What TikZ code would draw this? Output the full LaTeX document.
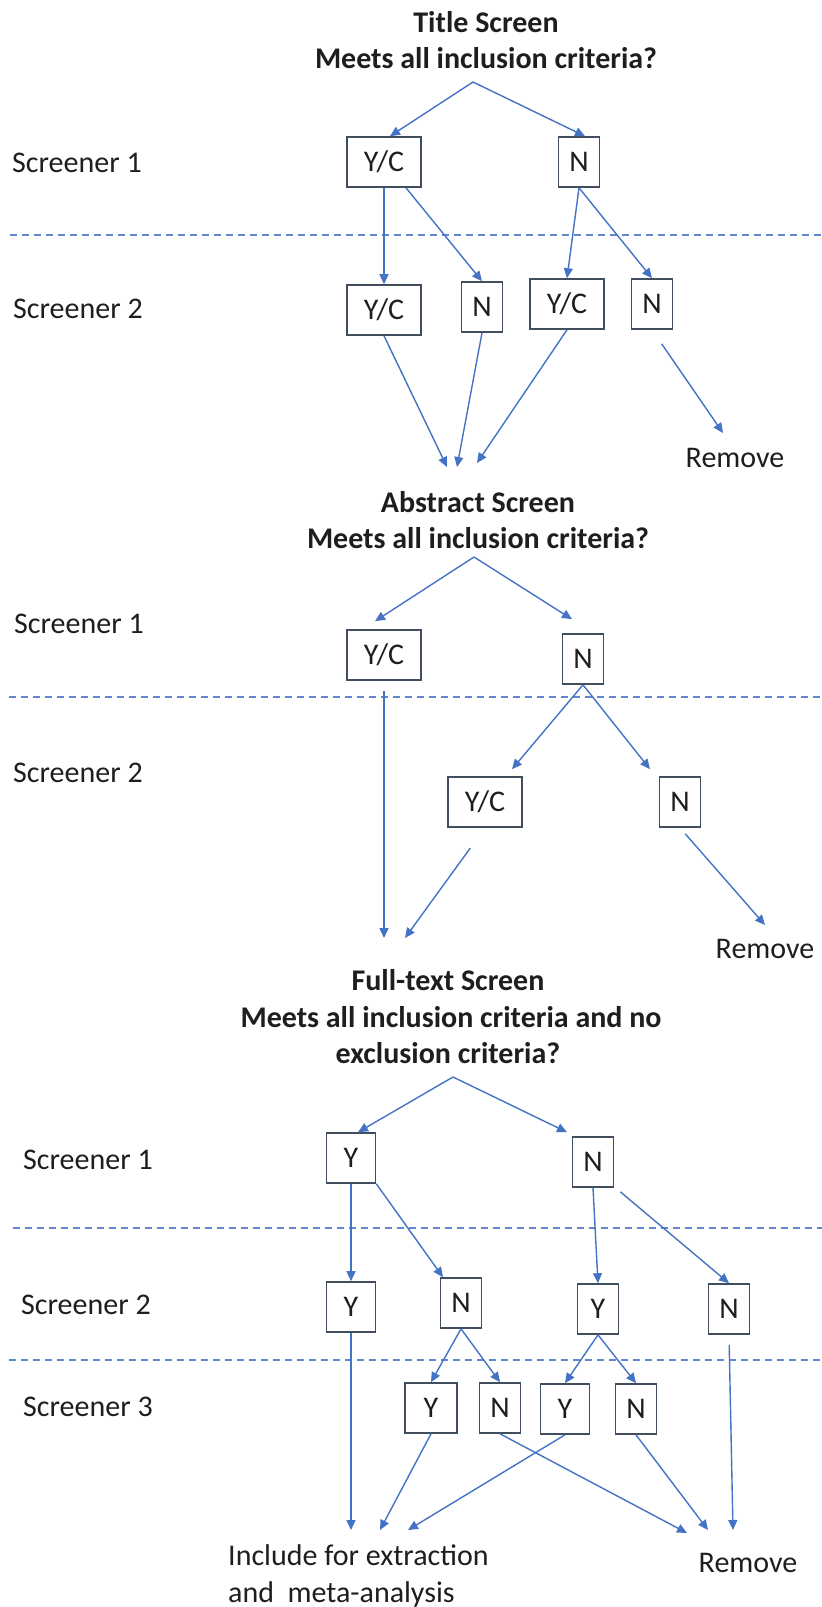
\documentclass[tikz,border=0pt]{standalone}
\usepackage{fontspec}
\setmainfont{Carlito}
\usetikzlibrary{arrows.meta}
\definecolor{arrowblue}{HTML}{4472C4}
\definecolor{boxgray}{HTML}{404E5E}
\definecolor{textgray}{HTML}{1E1E1E}
\begin{document}
\begin{tikzpicture}[x=1pt,y=-1pt,
    every node/.style={text=textgray,font=\fontsize{30}{36}\selectfont},
    lbl/.style={anchor=base west,inner sep=0pt},
    head/.style={anchor=base,inner sep=0pt,font=\fontsize{30}{36}\selectfont\bfseries},
    res/.style={anchor=base,inner sep=0pt},
    box/.style={draw=boxgray,line width=1.6pt,minimum height=50pt,inner sep=0pt},
    ycbox/.style={box,minimum width=74pt},
    nbox/.style={box,minimum width=41pt},
    ybox/.style={box,minimum width=49pt},
    arr/.style={draw=arrowblue,line width=1.4pt,-{Triangle[length=10pt,width=9pt]}},
    sep/.style={draw=arrowblue!85,line width=1.4pt,dash pattern=on 7pt off 5pt}]
        \useasboundingbox (0,0) rectangle (822,1607);
        % Separators
        \foreach \y/\xa in {235/10,697/9,1228/13,1360/9}
          \draw[sep] (\xa,\y) -- (822,\y);
        % Screeners
        \foreach \x/\y/\n in {12/172/1,13/318/2,14/633/1,13/782/2,23/1169/1,21/1314/2,23/1416/3}
          \node[lbl] (scr\y) at (\x,\y) {Screener \n};
        % Title screen
        \node[head] (thead) at (486,32) {Title Screen};
        \node[head] (tq) at (486,68) {Meets all inclusion criteria?};
        \coordinate (tsplit) at (473,82);
        \node[ycbox] (t1yc) at (384,162) {Y/C};
        \node[nbox] (t1n) at (579,162) {N};
        \node[ycbox] (t2yc) at (384,310) {Y/C};
        \node[nbox] (t2n) at (482,307) {N};
        \node[ycbox] (t2ycb) at (567,304) {Y/C};
        \node[nbox] (t2nb) at (652,304) {N};
        \coordinate (tm1) at (447,467);
        \coordinate (tm2) at (457,467);
        \coordinate (tm3) at (477,463);
        \coordinate (trem) at (723,433);
        \node[res] (tremove) at (735,467) {Remove};
        \draw[arr] (tsplit) -- ([xshift=6pt]t1yc.north);
        \draw[arr] (tsplit) -- ([xshift=6pt]t1n.north);
        \draw[arr] (t1yc.south) -- (t2yc.north);
        \draw[arr] ([xshift=22pt]t1yc.south) -- (t2n.north);
        \draw[arr] (t1n.south) -- (t2ycb.north);
        \draw[arr] (t1n.south) -- (t2nb.north);
        \draw[arr] (t2yc.south) -- (tm1);
        \draw[arr] (t2n.south) -- (tm2);
        \draw[arr] (t2ycb.south) -- (tm3);
        \draw[arr,shorten <=17pt] (t2nb.south) -- (trem);
        % Abstract screen
        \node[head] (ahead) at (478,512) {Abstract Screen};
        \node[head] (aq) at (478,548) {Meets all inclusion criteria?};
        \coordinate (asplit) at (474,557);
        \node[ycbox] (a1yc) at (384,655) {Y/C};
        \node[nbox] (a1n) at (583,659) {N};
        \node[ycbox] (a2yc) at (485,802) {Y/C};
        \node[nbox] (a2n) at (680,802) {N};
        \coordinate (am1) at (384,938);
        \coordinate (am2) at (405,938);
        \coordinate (arem) at (765,925);
        \node[res] (aremove) at (765,958) {Remove};
        \draw[arr] (asplit) -- ([xshift=-9pt,yshift=8pt]a1yc.north);
        \draw[arr] (asplit) -- ([xshift=-11pt,yshift=14pt]a1n.north);
        \draw[arr,shorten <=10pt] (a1yc.south) -- (am1);
        \draw[arr] (a1n.south) -- ([xshift=27pt,yshift=7pt]a2yc.north);
        \draw[arr] (a1n.south) -- ([xshift=-30pt,yshift=7pt]a2n.north);
        \draw[arr,shorten <=25pt] (a2yc.south) -- (am2);
        \draw[arr,shorten <=8pt] (a2n.south) -- (arem);
        % Full-text screen
        \node[head] (fhead) at (448,990) {Full-text Screen};
        \node[head] (fq) at (451,1027) {Meets all inclusion criteria and no};
        \node[head] (fq2) at (448,1063) {exclusion criteria?};
        \coordinate (fsplit) at (453,1077);
        \node[ybox] (f1y) at (351,1158) {Y};
        \node[nbox] (f1n) at (593,1162) {N};
        \node[ybox] (f2y) at (351,1307) {Y};
        \node[nbox] (f2n) at (461,1303) {N};
        \node[nbox] (f2yb) at (598,1309) {Y};
        \node[nbox] (f2nb) at (729,1309) {N};
        \node[ybox,minimum width=52pt] (f3y) at (431,1408) {Y};
        \node[nbox] (f3n) at (500,1408) {N};
        \node[ybox] (f3yb) at (565,1409) {Y};
        \node[nbox] (f3nb) at (636,1409) {N};
        \coordinate (fi1) at (351,1530);
        \coordinate (fi2) at (380,1530);
        \coordinate (fi3) at (408,1530);
        \coordinate (fr1) at (687,1533);
        \coordinate (fr2) at (708,1530);
        \coordinate (fr3) at (733,1530);
        \node[lbl] (finc) at (228,1565) {Include for extraction};
        \node[lbl] (finc2) at (228,1602) {and\ \ meta-analysis};
        \node[res] (fremove) at (748,1572) {Remove};
        \draw[arr] (fsplit) -- ([xshift=7pt]f1y.north);
        \draw[arr] (fsplit) -- ([xshift=-26pt,yshift=4pt]f1n.north);
        \draw[arr] (f1y.south) -- (f2y.north);
        \draw[arr] (f1y.south east) -- ([xshift=-18pt]f2n.north);
        \draw[arr] (f1n.south) -- (f2yb.north);
        \draw[arr] ([xshift=6pt,yshift=-4pt]f1n.south east) -- (f2nb.north);
        \draw[arr] (f2n.south) -- (f3y.north);
        \draw[arr] (f2n.south) -- (f3n.north);
        \draw[arr] (f2yb.south) -- (f3yb.north);
        \draw[arr] (f2yb.south) -- (f3nb.north);
        \draw[arr] (f2y.south) -- (fi1);
        \draw[arr] (f3y.south) -- (fi2);
        \draw[arr] (f3yb.south) -- (fi3);
        \draw[arr] (f3n.south) -- (fr1);
        \draw[arr] (f3nb.south) -- (fr2);
        \draw[arr,shorten <=10pt] (f2nb.south) -- (fr3);
\end{tikzpicture}
\end{document}
